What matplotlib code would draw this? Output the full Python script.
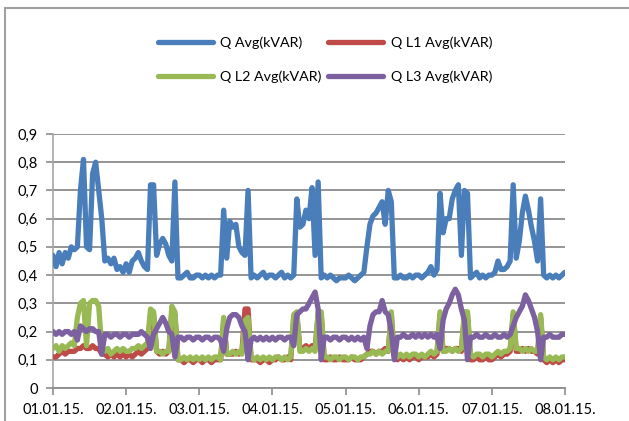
import matplotlib
matplotlib.use('Agg')
import matplotlib.pyplot as plt
import matplotlib.patches as mpatches
import pandas as pd

plt.rcParams['font.family'] = ['Lato', 'DejaVu Sans']

# ---- data (hourly readings, 01.01.2015 00:00 .. 08.01.2015 00:00) ----
start_time = '2015-01-01 00:00'
series_names = ['Q Avg(kVAR)', 'Q L1 Avg(kVAR)', 'Q L2 Avg(kVAR)', 'Q L3 Avg(kVAR)']

q_avg = [
    0.47, 0.43, 0.48, 0.44, 0.48, 0.46, 0.50, 0.49, 0.50, 0.70, 0.81, 0.50, 0.49, 0.76, 0.80, 0.70, 0.60, 0.45, 0.46, 0.44, 0.46, 0.42, 0.43, 0.41,
    0.44, 0.41, 0.45, 0.46, 0.48, 0.45, 0.43, 0.42, 0.72, 0.72, 0.47, 0.51, 0.53, 0.51, 0.47, 0.45, 0.73, 0.39, 0.39, 0.40, 0.41, 0.39, 0.39, 0.40,
    0.40, 0.39, 0.40, 0.39, 0.40, 0.39, 0.40, 0.40, 0.63, 0.46, 0.59, 0.57, 0.58, 0.50, 0.48, 0.47, 0.70, 0.39, 0.40, 0.39, 0.40, 0.41, 0.39, 0.40,
    0.40, 0.39, 0.40, 0.41, 0.39, 0.40, 0.39, 0.40, 0.67, 0.57, 0.58, 0.63, 0.60, 0.71, 0.47, 0.73, 0.39, 0.40, 0.39, 0.40, 0.39, 0.38, 0.39, 0.39,
    0.39, 0.40, 0.39, 0.38, 0.39, 0.40, 0.41, 0.50, 0.58, 0.61, 0.62, 0.64, 0.66, 0.58, 0.70, 0.66, 0.39, 0.39, 0.40, 0.39, 0.39, 0.40, 0.39, 0.40,
    0.40, 0.39, 0.40, 0.41, 0.43, 0.40, 0.42, 0.69, 0.55, 0.60, 0.60, 0.67, 0.70, 0.72, 0.47, 0.70, 0.69, 0.39, 0.40, 0.41, 0.39, 0.40, 0.39, 0.40,
    0.40, 0.41, 0.45, 0.42, 0.42, 0.43, 0.45, 0.72, 0.46, 0.52, 0.62, 0.68, 0.63, 0.57, 0.52, 0.45, 0.67, 0.40, 0.39, 0.40, 0.39, 0.40, 0.39, 0.40,
    0.41,
]

q_l1 = [
    0.11, 0.11, 0.12, 0.13, 0.12, 0.13, 0.13, 0.13, 0.14, 0.14, 0.15, 0.14, 0.14, 0.15, 0.14, 0.14, 0.12, 0.12, 0.11, 0.12, 0.11, 0.12, 0.11, 0.12,
    0.11, 0.12, 0.11, 0.12, 0.13, 0.12, 0.13, 0.14, 0.26, 0.26, 0.13, 0.12, 0.13, 0.12, 0.13, 0.27, 0.26, 0.10, 0.10, 0.09, 0.10, 0.10, 0.09, 0.10,
    0.10, 0.09, 0.10, 0.10, 0.09, 0.10, 0.10, 0.10, 0.24, 0.12, 0.12, 0.12, 0.13, 0.12, 0.13, 0.28, 0.28, 0.10, 0.10, 0.10, 0.09, 0.10, 0.10, 0.09,
    0.10, 0.10, 0.11, 0.10, 0.10, 0.11, 0.10, 0.25, 0.26, 0.14, 0.14, 0.15, 0.14, 0.15, 0.14, 0.26, 0.26, 0.10, 0.10, 0.11, 0.10, 0.10, 0.11, 0.10,
    0.10, 0.10, 0.11, 0.10, 0.10, 0.10, 0.11, 0.12, 0.13, 0.13, 0.12, 0.13, 0.13, 0.14, 0.13, 0.26, 0.11, 0.10, 0.11, 0.10, 0.11, 0.10, 0.11, 0.11,
    0.10, 0.11, 0.11, 0.11, 0.12, 0.11, 0.12, 0.26, 0.13, 0.14, 0.14, 0.13, 0.14, 0.14, 0.13, 0.26, 0.26, 0.10, 0.10, 0.11, 0.10, 0.10, 0.11, 0.10,
    0.10, 0.11, 0.12, 0.11, 0.12, 0.12, 0.13, 0.26, 0.13, 0.13, 0.14, 0.13, 0.14, 0.13, 0.13, 0.12, 0.25, 0.10, 0.09, 0.10, 0.09, 0.10, 0.09, 0.10,
    0.10,
]

q_l2 = [
    0.14, 0.15, 0.13, 0.15, 0.14, 0.15, 0.16, 0.15, 0.25, 0.30, 0.31, 0.15, 0.30, 0.31, 0.31, 0.29, 0.14, 0.13, 0.14, 0.12, 0.13, 0.14, 0.13, 0.14,
    0.13, 0.13, 0.14, 0.14, 0.15, 0.14, 0.15, 0.16, 0.28, 0.27, 0.13, 0.13, 0.12, 0.13, 0.13, 0.29, 0.27, 0.10, 0.10, 0.11, 0.10, 0.11, 0.10, 0.11,
    0.10, 0.11, 0.10, 0.11, 0.10, 0.11, 0.11, 0.10, 0.25, 0.12, 0.12, 0.13, 0.12, 0.13, 0.12, 0.24, 0.25, 0.11, 0.10, 0.11, 0.10, 0.11, 0.10, 0.11,
    0.10, 0.11, 0.11, 0.10, 0.11, 0.10, 0.11, 0.26, 0.27, 0.13, 0.13, 0.14, 0.13, 0.14, 0.13, 0.27, 0.27, 0.11, 0.11, 0.10, 0.11, 0.11, 0.10, 0.11,
    0.11, 0.10, 0.11, 0.11, 0.10, 0.11, 0.11, 0.12, 0.12, 0.13, 0.12, 0.13, 0.12, 0.13, 0.13, 0.27, 0.11, 0.11, 0.12, 0.11, 0.12, 0.11, 0.12, 0.12,
    0.11, 0.12, 0.11, 0.12, 0.13, 0.12, 0.13, 0.27, 0.13, 0.13, 0.14, 0.13, 0.14, 0.13, 0.14, 0.27, 0.27, 0.12, 0.11, 0.12, 0.12, 0.11, 0.12, 0.12,
    0.11, 0.12, 0.13, 0.12, 0.13, 0.13, 0.14, 0.27, 0.14, 0.14, 0.13, 0.14, 0.13, 0.14, 0.13, 0.13, 0.26, 0.11, 0.10, 0.11, 0.10, 0.11, 0.10, 0.11,
    0.11,
]

q_l3 = [
    0.20, 0.19, 0.20, 0.19, 0.20, 0.20, 0.19, 0.20, 0.17, 0.22, 0.21, 0.20, 0.21, 0.21, 0.20, 0.20, 0.12, 0.19, 0.19, 0.18, 0.19, 0.19, 0.18, 0.19,
    0.19, 0.18, 0.19, 0.19, 0.19, 0.20, 0.19, 0.18, 0.14, 0.19, 0.21, 0.23, 0.25, 0.23, 0.20, 0.19, 0.11, 0.18, 0.18, 0.17, 0.18, 0.18, 0.17, 0.18,
    0.18, 0.17, 0.18, 0.18, 0.17, 0.18, 0.18, 0.17, 0.13, 0.21, 0.25, 0.26, 0.26, 0.25, 0.22, 0.20, 0.10, 0.17, 0.18, 0.17, 0.18, 0.17, 0.18, 0.17,
    0.18, 0.17, 0.18, 0.18, 0.17, 0.18, 0.18, 0.15, 0.26, 0.27, 0.28, 0.28, 0.30, 0.32, 0.34, 0.28, 0.10, 0.18, 0.18, 0.17, 0.18, 0.18, 0.17, 0.18,
    0.18, 0.17, 0.18, 0.17, 0.18, 0.17, 0.18, 0.14, 0.22, 0.26, 0.27, 0.27, 0.31, 0.27, 0.26, 0.20, 0.10, 0.18, 0.18, 0.19, 0.18, 0.18, 0.19, 0.18,
    0.19, 0.18, 0.19, 0.18, 0.19, 0.18, 0.19, 0.14, 0.24, 0.28, 0.30, 0.33, 0.35, 0.33, 0.28, 0.24, 0.10, 0.18, 0.18, 0.19, 0.18, 0.18, 0.19, 0.18,
    0.18, 0.19, 0.18, 0.18, 0.19, 0.18, 0.19, 0.22, 0.25, 0.27, 0.29, 0.33, 0.31, 0.28, 0.25, 0.20, 0.10, 0.18, 0.18, 0.19, 0.18, 0.18, 0.18, 0.19,
    0.19,
]

y_ticks = [0, 0.1, 0.2, 0.3, 0.4, 0.5, 0.6, 0.7, 0.8, 0.9]
y_tick_labels = ['0', '0,1', '0,2', '0,3', '0,4', '0,5', '0,6', '0,7', '0,8', '0,9']
x_tick_labels = ['01.01.15.', '02.01.15.', '03.01.15.', '04.01.15.',
                 '05.01.15.', '06.01.15.', '07.01.15.', '08.01.15.']

colors = ['#4A7EBB', '#BE4B48', '#98B954', '#7D60A0']

# ---- figure ----
W, H = 629, 421
fig = plt.figure(figsize=(W / 100, H / 100), dpi=100)
fig.patch.set_facecolor('white')

# outer chart frame (left and top edges visible)
frame = mpatches.Rectangle((5 / W, -0.2), 1.5, (H - 8) / H + 0.2,
                           transform=fig.transFigure, fill=False,
                           edgecolor='#a0a0a0', lw=1.5)
fig.patches.append(frame)

ax = fig.add_axes([53 / W, 33 / H, 512 / W, 254 / H])

times = pd.date_range(start_time, periods=len(q_avg), freq='h')
data = [q_avg, q_l1, q_l2, q_l3]
lines = []
for i, (vals, c, name) in enumerate(zip(data, colors, series_names)):
    ln, = ax.plot(times, vals, color=c, lw=3.8, label=name,
                  solid_joinstyle='round', solid_capstyle='round', zorder=3 + i)
    lines.append(ln)

ax.set_ylim(0, 0.9)
ax.set_yticks(y_ticks)
ax.set_yticklabels(y_tick_labels)
day_ticks = pd.date_range(start_time, periods=len(x_tick_labels), freq='D')
ax.set_xlim(day_ticks[0], day_ticks[-1])
ax.set_xticks(day_ticks)
ax.set_xticklabels(x_tick_labels)

grid_c = '#8c8c8c'
ax.yaxis.grid(True, color=grid_c, lw=1.3)
ax.set_axisbelow(True)
for s in ['top', 'right']:
    ax.spines[s].set_visible(False)
ax.spines['left'].set_color('#a6a6a6')
ax.spines['bottom'].set_color(grid_c)
ax.spines['left'].set_linewidth(1.2)
ax.spines['bottom'].set_linewidth(1.3)
ax.tick_params(axis='both', direction='out', length=5, width=1.2,
               colors=grid_c, labelcolor='black', labelsize=10.5)
ax.tick_params(axis='x', pad=6)
ax.tick_params(axis='y', pad=6)

# legend row-wise: Avg, L1 / L2, L3
order = [0, 2, 1, 3]
leg = fig.legend([lines[i] for i in order], [series_names[i] for i in order],
                 ncol=2, loc='center', bbox_to_anchor=(325 / W, 1 - 59.5 / H),
                 frameon=False, fontsize=10.3, handlelength=3.85,
                 handletextpad=0.54, columnspacing=0.45, labelspacing=1.5)
for lh in leg.get_lines():
    lh.set_linewidth(3.8)
    lh.set_solid_capstyle('round')

fig.savefig('out.png', dpi=100)
